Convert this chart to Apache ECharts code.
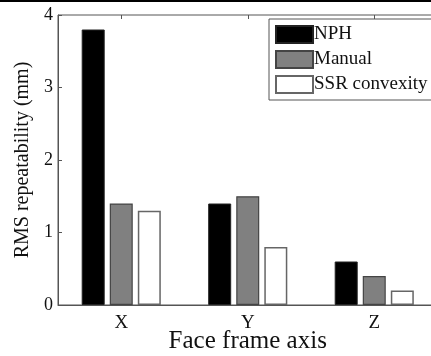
<!DOCTYPE html>
<html>
<head>
<meta charset="utf-8">
<script src="https://cdn.jsdelivr.net/npm/echarts@6/dist/echarts.min.js"></script>
<style>
html,body{margin:0;padding:0;background:#fff;}
#chart{width:431px;height:356px;}
</style>
</head>
<body>
<div id="chart"></div>
<script>
var categories = ['X', 'Y', 'Z'];
var nphValues = [3.8, 1.4, 0.6];
var manualValues = [1.4, 1.5, 0.4];
var ssrValues = [1.3, 0.8, 0.2];
var seriesNames = ['NPH', 'Manual', 'SSR convexity'];
var yTicks = [0, 1, 2, 3, 4];

var FONT = '"Liberation Serif", "Times New Roman", serif';
var chart = echarts.init(document.getElementById('chart'), null, {renderer: 'canvas'});
chart.setOption({
  animation: false,
  backgroundColor: '#fff',
  graphic: [{
    type: 'rect', left: 0, top: 0, shape: {width: 431, height: 2},
    style: {fill: '#000'}, z: 100
  }],
  grid: {
    left: 58, top: 15, right: -6.5, bottom: 51,
    show: true, borderColor: '#555', borderWidth: 1,
    containLabel: false, outerBoundsMode: 'none'
  },
  legend: {
    left: 269, top: 19,
    orient: 'vertical',
    itemWidth: 37, itemHeight: 17, itemGap: 6,
    padding: [6, 40, 6, 6],
    borderColor: '#555', borderWidth: 1, backgroundColor: '#fff',
    textStyle: {fontFamily: FONT, fontSize: 19, color: '#111', padding: [0, 0, 0, -4]},
    data: seriesNames.map(function (n) { return {name: n, icon: 'rect'}; })
  },
  xAxis: [{
    type: 'category', data: categories, position: 'bottom',
    name: 'Face frame axis', nameLocation: 'middle', nameGap: 24, nameMoveOverlap: false,
    nameTextStyle: {fontFamily: FONT, fontSize: 25, color: '#111'},
    axisLine: {lineStyle: {color: '#555', width: 1}},
    axisTick: {show: false},
    axisLabel: {fontFamily: FONT, fontSize: 19, color: '#111', margin: 9}
  }, {
    type: 'category', data: categories, position: 'top',
    axisLine: {show: false},
    axisTick: {show: true, inside: true, alignWithLabel: true, length: 4, lineStyle: {color: '#555'}},
    axisLabel: {show: false}
  }],
  yAxis: {
    type: 'value', min: yTicks[0], max: yTicks[yTicks.length - 1], interval: 1,
    name: 'RMS repeatability (mm)', nameLocation: 'middle', nameGap: 25, nameMoveOverlap: false,
    nameTextStyle: {fontFamily: FONT, fontSize: 20, color: '#111'},
    axisLine: {show: true, lineStyle: {color: '#555', width: 1}},
    axisTick: {show: true, inside: true, length: 4, lineStyle: {color: '#555'}},
    axisLabel: {fontFamily: FONT, fontSize: 18, color: '#111', margin: 5},
    splitLine: {show: false}
  },
  series: [{
    name: seriesNames[0], type: 'bar', data: nphValues, barWidth: 23, barGap: '22%',
    itemStyle: {color: '#000', borderColor: '#222', borderWidth: 1}
  }, {
    name: seriesNames[1], type: 'bar', data: manualValues, barWidth: 23, barGap: '22%',
    itemStyle: {color: '#808080', borderColor: '#444', borderWidth: 1.2}
  }, {
    name: seriesNames[2], type: 'bar', data: ssrValues, barWidth: 23, barGap: '22%',
    itemStyle: {color: '#fff', borderColor: '#666', borderWidth: 1.5}
  }]
});
</script>
</body>
</html>
